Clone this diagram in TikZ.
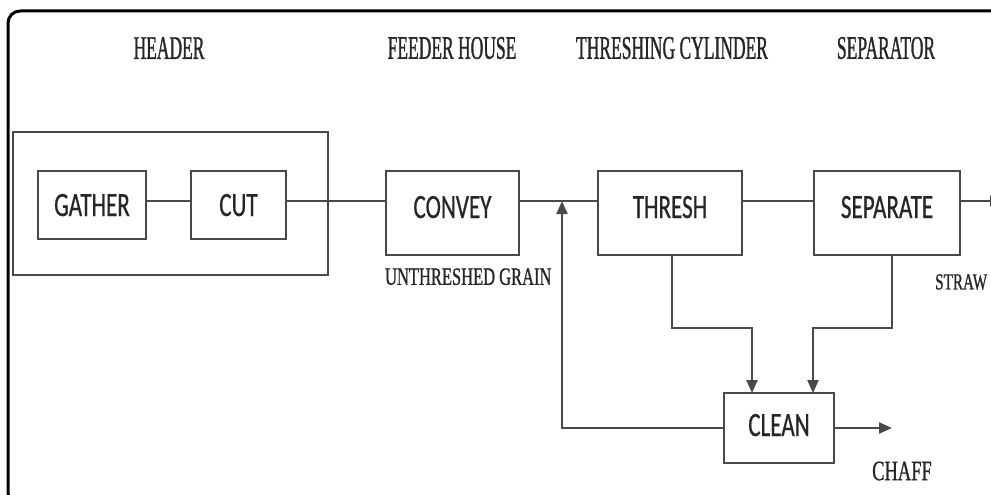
\documentclass[tikz,border=0pt]{standalone}
\usepackage{fontspec}
\usepackage{tikz}
\usetikzlibrary{arrows.meta, positioning, calc}
\newfontfamily\boxfont[FakeStretch=0.68, FakeBold=0.6]{Carlito}
\newfontfamily\capfont[FakeStretch=0.53, FakeBold=0.9]{Liberation Serif}
\newfontfamily\notefont[FakeStretch=0.66, FakeBold=0.9]{Liberation Serif}
\definecolor{ink}{HTML}{262626}
\definecolor{edge}{HTML}{4A4A4A}
\tikzstyle{stage} = [rectangle, draw=edge, line width=2.2pt, text=ink, font=\boxfont\fontsize{34}{36}\selectfont, text height=22pt, text depth=0pt, inner sep=0pt]
\tikzstyle{tall} = [stage, minimum height=84pt, text depth=12pt]
\tikzstyle{phase} = [text=ink, font=\capfont\fontsize{33}{35}\selectfont, inner sep=0pt]
\tikzstyle{note} = [text=ink, font=\notefont\fontsize{25}{27}\selectfont, inner sep=0pt, anchor=west]
\tikzstyle{link} = [draw=edge, line width=2.2pt]
\tikzstyle{arrow} = [link, -{Triangle[length=13pt,width=11pt]}, >=stealth]

\begin{document}
\begin{tikzpicture}[x=1pt, y=-1pt]
\useasboundingbox (0,0) rectangle (991,495);
\clip (0,0) rectangle (991,495);
\draw [line width=3pt, rounded corners=12pt] (8,11) rectangle (1150,505);

% phase titles
\node (thdr) [phase] at (169,48) {HEADER};
\node (tfeed) [phase] at (452,48) {FEEDER HOUSE};
\node (tcyl) [phase] at (672,48) {THRESHING CYLINDER};
\node (tsep) [phase] at (886,48) {SEPARATOR};

% stages
\node (hdr) [rectangle, draw=edge, line width=2.2pt, minimum width=315pt, minimum height=143pt] at (170.5,203.5) {};
\node (gath) [stage, minimum width=108pt, minimum height=68pt] at (92,205) {GATHER};
\node (cut) [stage, minimum width=95pt, minimum height=68pt] at (238.5,205) {CUT};
\node (conv) [tall, minimum width=133pt] at (452.5,213) {CONVEY};
\node (thr) [tall, minimum width=144pt] at (670,213) {THRESH};
\node (sep) [tall, minimum width=146pt] at (887,213) {SEPARATE};
\node (cln) [stage, minimum width=110pt, minimum height=70pt, text depth=6pt] at (779,428) {CLEAN};

\coordinate (bus) at (0,201);
\coordinate (ret) at (562,201);
\coordinate (out) at (1003,201);
\coordinate (chaff) at (892,428);

\draw [link] (gath.east |- bus) -- (cut.west |- bus);
\draw [link] (cut.east |- bus) -- (conv.west |- bus);
\draw [link] (conv.east |- bus) -- (thr.west |- bus);
\draw [link] (thr.east |- bus) -- (sep.west |- bus);
\draw [arrow] (sep.east |- bus) -- (out);

\draw [arrow] (cln.west) -| (ret);
\draw [arrow] (672,255) |- (752,328) -- (752,393);
\draw [arrow] (892,255) |- (813,328) -- (813,393);
\draw [arrow] (cln.east) -- (chaff);

% stream labels
\node (unth) [note, below=12pt of conv.south west, anchor=north west] {UNTHRESHED GRAIN};
\node (straw) [note, font=\notefont\fontsize{23}{25}\selectfont] at (935,282) {STRAW};
\node (chf) [note, font=\notefont\fontsize{28}{30}\selectfont] at (872,471) {CHAFF};
\end{tikzpicture}
\end{document}
